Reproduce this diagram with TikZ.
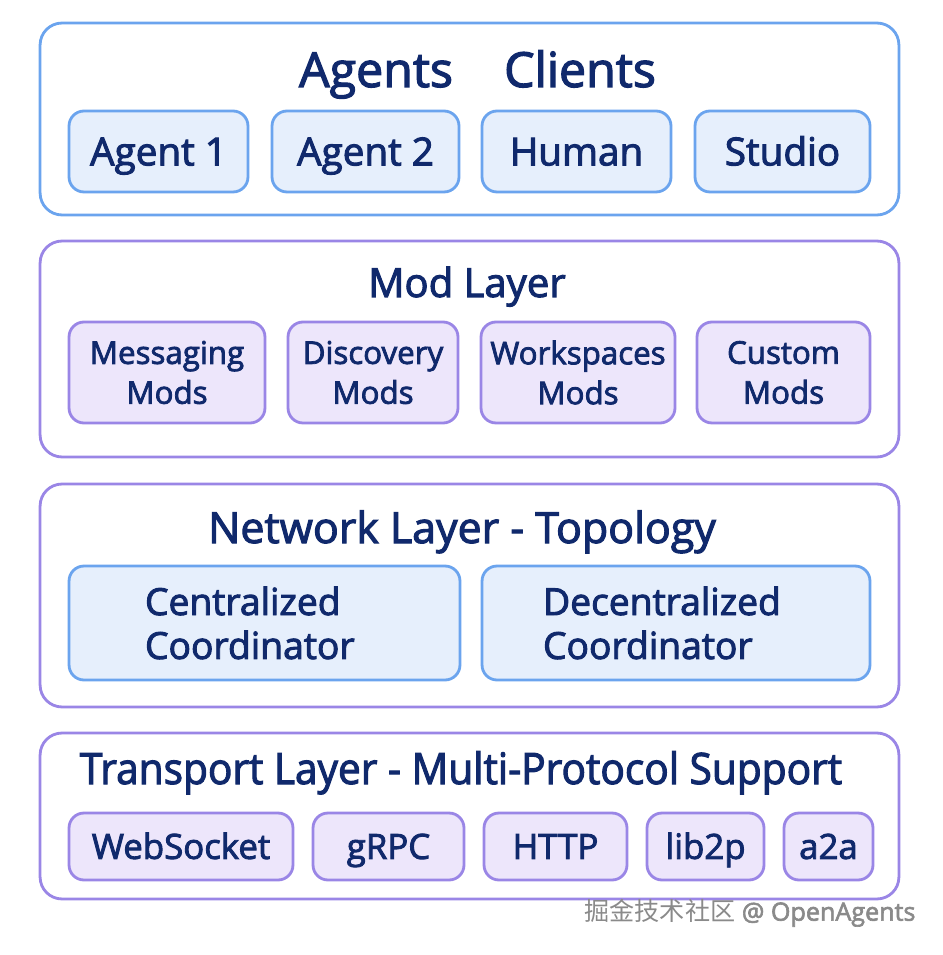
\documentclass[tikz,border=0pt]{standalone}
\usepackage{fontspec}
\setmainfont{Open Sans}[FakeBold=2.5]
\newfontfamily\cjkfont{Noto Sans CJK SC}
\definecolor{navy}{HTML}{10296C}
\definecolor{bblue}{HTML}{6BA4EE}
\definecolor{fblue}{HTML}{E6EFFC}
\definecolor{bpurp}{HTML}{9A86E6}
\definecolor{fpurp}{HTML}{EDE6FB}
\definecolor{wmgray}{HTML}{8A8A8A}
\tikzset{
  layerbox/.style={draw, line width=1.6pt, rounded corners=0.44cm, fill=white, inner sep=0pt},
  bluelayer/.style={layerbox, draw=bblue},
  purplayer/.style={layerbox, draw=bpurp},
  card/.style={line width=1.6pt, rounded corners=0.3cm, inner sep=0pt, text=navy, align=center},
  bluecard/.style={card, draw=bblue, fill=fblue},
  purpcard/.style={card, draw=bpurp, fill=fpurp},
  ttl/.style={text=navy, inner sep=0pt, anchor=base},
}
\begin{document}
\begin{tikzpicture}[x=0.02cm, y=-0.02cm]
\useasboundingbox (0,0) rectangle (942,955);
% layers
\node[bluelayer, minimum width=17.18cm, minimum height=3.84cm] (L1) at (469.5,119) {};
\node[purplayer, minimum width=17.18cm, minimum height=4.32cm] (L2) at (469.5,349) {};
\node[purplayer, minimum width=17.18cm, minimum height=4.46cm] (L3) at (469.5,595.5) {};
\node[purplayer, minimum width=17.18cm, minimum height=3.32cm] (L4) at (469.5,816) {};
% titles
\node[ttl, font=\fontsize{27.5}{32}\selectfont] (tAgents) at (376,87) {Agents};
\node[ttl, font=\fontsize{27.5}{32}\selectfont] (tClients) at (580,87) {Clients};
\node[ttl, font=\fontsize{22.8}{27}\selectfont] (tMod) at (467,297) {Mod Layer};
\node[ttl, font=\fontsize{24.4}{29}\selectfont] (tNet) at (462,543) {Network Layer - Topology};
\node[ttl, font=\fontsize{24.6}{29}\selectfont] (tTrans) at (461,784) {\scalebox{0.94}[1]{Transport Layer - Multi-Protocol Support}};
% layer 1 cards
\begin{scope}[every node/.append style={font=\fontsize{22}{26}\selectfont, minimum height=1.62cm, text height=15.8pt, text depth=0pt}]
\node[bluecard, minimum width=3.58cm] (a1) at (158.5,151.5) {Agent 1};
\node[bluecard, minimum width=3.74cm] (a2) at (365.5,151.5) {Agent 2};
\node[bluecard, minimum width=3.78cm] (hu) at (576.5,151.5) {Human};
\node[bluecard, minimum width=3.50cm] (st) at (782.5,151.5) {Studio};
\end{scope}
% layer 2 cards
\begin{scope}[every node/.append style={font=\fontsize{17.8}{22.7}\selectfont, minimum height=2.02cm}]
\node[purpcard, minimum width=3.92cm] (m1) at (167,372.5) {Messaging\\Mods};
\node[purpcard, minimum width=3.40cm] (m2) at (373,372.5) {Discovery\\Mods};
\node[purpcard, minimum width=3.88cm] (m3) at (578,372.5) {Workspaces\\Mods};
\node[purpcard, minimum width=3.46cm] (m4) at (783.5,372.5) {Custom\\Mods};
\end{scope}
% layer 3 cards
\begin{scope}[every node/.append style={font=\fontsize{21.2}{25}\selectfont, minimum height=2.28cm}]
\node[bluecard, align=left, minimum width=7.82cm, inner xsep=1.52cm, text width=4.78cm] (c1) at (264.5,623) {Centralized\\Coordinator};
\node[bluecard, align=left, minimum width=7.76cm, inner xsep=1.22cm, text width=5.32cm] (c2) at (676,623) {Decentralized\\Coordinator};
\end{scope}
% layer 4 cards
\begin{scope}[every node/.append style={font=\fontsize{19.8}{23}\selectfont, minimum height=1.34cm, text height=14.1pt, text depth=0pt}]
\node[purpcard, minimum width=4.48cm] (p1) at (181,846.5) {WebSocket};
\node[purpcard, minimum width=3.02cm] (p2) at (388.5,846.5) {gRPC};
\node[purpcard, minimum width=2.86cm] (p3) at (555.5,846.5) {HTTP};
\node[purpcard, minimum width=2.34cm] (p4) at (705.5,846.5) {lib2p};
\node[purpcard, minimum width=1.78cm] (p5) at (828.5,846.5) {a2a};
\end{scope}
% watermark
\node[text=wmgray, inner sep=0pt, font=\fontsize{14.3}{17}\selectfont] (wm) at (750,913) {{\cjkfont 掘金技术社区} @ OpenAgents};
\end{tikzpicture}
\end{document}
